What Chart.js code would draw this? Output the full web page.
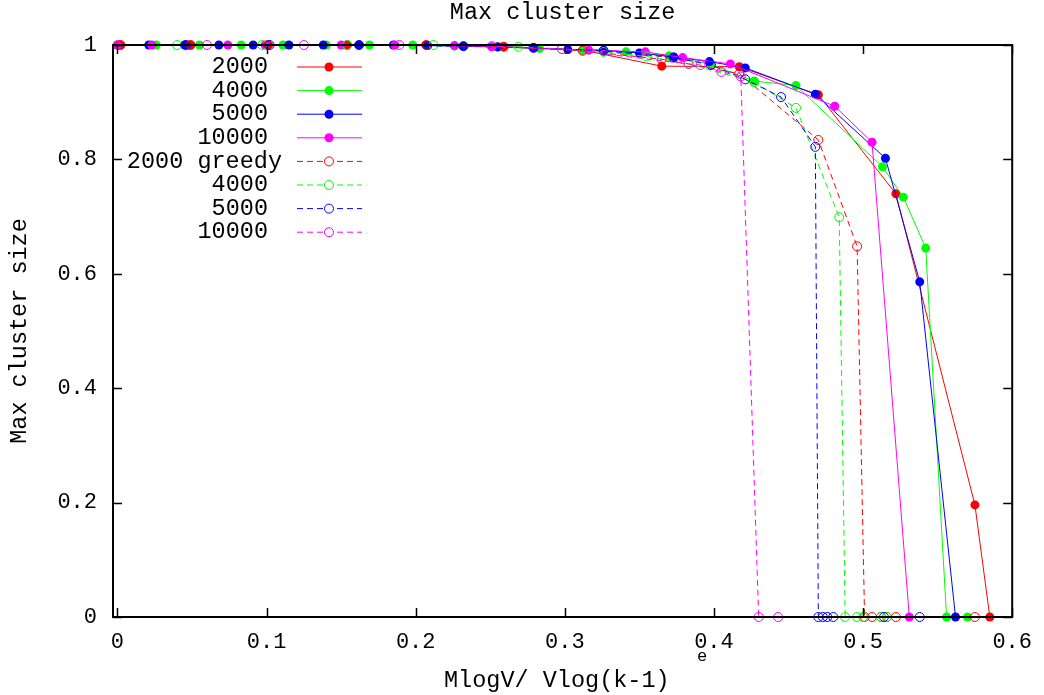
<!DOCTYPE html>
<html lang="en">
  <head>
    <meta charset="UTF-8">
    <script src="https://cdn.jsdelivr.net/npm/chart.js"></script>
    <title>Max cluster size</title>
    <style>
      body { margin: 0; background: #fff; }
      #wrap { width: 1044px; height: 695px; }
    </style>
  </head>
  <body>
    <div id="wrap"><canvas id="myChart"></canvas></div>
    <script>
        // values
        const xTicks = [0, 0.1, 0.2, 0.3, 0.4, 0.5, 0.6];
        const yTicks = [0, 0.2, 0.4, 0.6, 0.8, 1];

        const x2000 = [0.002, 0.049, 0.101, 0.154, 0.207, 0.259, 0.312, 0.365, 0.417, 0.470, 0.522, 0.575, 0.585];
        const y2000 = [1, 1, 1, 1, 1, 0.997, 0.991, 0.963, 0.962, 0.913, 0.740, 0.196, 0];

        const x4000 = [0.026, 0.055, 0.083, 0.111, 0.140, 0.169, 0.198, 0.226, 0.255, 0.283, 0.312, 0.341, 0.370, 0.398, 0.427, 0.455, 0.513, 0.527, 0.542, 0.556, 0.570];
        const y4000 = [1, 1, 1, 1, 1, 1, 1, 0.998, 0.996, 0.994, 0.991, 0.988, 0.981, 0.966, 0.937, 0.929, 0.787, 0.734, 0.645, 0, 0];

        const x5000 = [0, 0.021, 0.045, 0.068, 0.091, 0.115, 0.138, 0.162, 0.185, 0.208, 0.232, 0.255, 0.279, 0.302, 0.326, 0.350, 0.373, 0.397, 0.421, 0.468, 0.515, 0.538, 0.562];
        const y5000 = [1, 1, 1, 1, 1, 1, 1, 1, 1, 0.999, 0.998, 0.997, 0.995, 0.992, 0.991, 0.986, 0.979, 0.971, 0.960, 0.914, 0.802, 0.586, 0];

        const x10000 = [0, 0.023, 0.074, 0.099, 0.150, 0.186, 0.226, 0.251, 0.316, 0.354, 0.379, 0.411, 0.481, 0.506, 0.531];
        const y10000 = [1, 1, 1, 1, 1, 1, 0.999, 0.997, 0.991, 0.988, 0.978, 0.967, 0.893, 0.830, 0];

        const xG2000 = [0.002, 0.049, 0.101, 0.154, 0.207, 0.259, 0.312, 0.365, 0.417, 0.470, 0.496, 0.501, 0.506, 0.512, 0.516, 0.522, 0.575];
        const yG2000 = [1, 1, 1, 1, 1, 0.997, 0.990, 0.975, 0.950, 0.834, 0.648, 0, 0, 0, 0, 0, 0];

        const xG4000 = [0.040, 0.097, 0.154, 0.212, 0.269, 0.298, 0.326, 0.355, 0.383, 0.427, 0.455, 0.484, 0.488, 0.496, 0.500, 0.512, 0.516];
        const yG4000 = [1, 1, 1, 1, 0.997, 0.993, 0.988, 0.980, 0.967, 0.935, 0.890, 0.699, 0, 0, 0, 0, 0];

        const xG5000 = [0.046, 0.102, 0.162, 0.232, 0.279, 0.326, 0.373, 0.398, 0.421, 0.445, 0.468, 0.470, 0.473, 0.476, 0.480, 0.514, 0.538];
        const yG5000 = [1, 1, 1, 0.998, 0.995, 0.990, 0.978, 0.965, 0.940, 0.909, 0.822, 0, 0, 0, 0, 0, 0];

        const xG10000 = [0.060, 0.125, 0.189, 0.251, 0.298, 0.383, 0.391, 0.405, 0.418, 0.430, 0.443];
        const yG10000 = [1, 1, 1, 0.998, 0.993, 0.967, 0.965, 0.953, 0.945, 0, 0];

        const seriesLabels = ['2000', '4000', '5000', '10000', '2000 greedy', '4000', '5000', '10000'];
        const colors = ['#ff0000', '#00ff00', '#0000ff', '#ff00ff'];
        const FONT = '"Liberation Mono", "DejaVu Sans Mono", monospace';

        function pts(xs, ys) {
          return xs.map((x, i) => ({ x: x, y: ys[i] }));
        }

        const seriesData = [
          pts(x2000, y2000), pts(x4000, y4000), pts(x5000, y5000), pts(x10000, y10000),
          pts(xG2000, yG2000), pts(xG4000, yG4000), pts(xG5000, yG5000), pts(xG10000, yG10000)
        ];

        const datasets = seriesData.map((d, i) => {
          const c = colors[i % 4];
          const greedy = i >= 4;
          return {
            label: seriesLabels[i],
            data: d,
            borderColor: c,
            backgroundColor: greedy ? 'rgba(0,0,0,0)' : c,
            pointBorderColor: c,
            pointBackgroundColor: greedy ? '#fff0' : c,
            borderWidth: 1,
            borderDash: greedy ? [6, 4] : [],
            pointRadius: 4.5,
            pointBorderWidth: greedy ? 1 : 0,
            pointHoverRadius: 4.5,
            showLine: true,
            tension: 0,
            clip: false,
            order: 8 - i
          };
        });

        // gnuplot-like frame with inward ticks, legend, title and axis labels
        const gnuplotLook = {
          id: 'gnuplotLook',
          afterDatasetsDraw(chart) {
            const ctx = chart.ctx;
            const a = chart.chartArea;
            const xs = chart.scales.x, ys = chart.scales.y;
            ctx.save();
            ctx.strokeStyle = '#000';
            ctx.lineWidth = 1.5;
            ctx.beginPath();
            xTicks.forEach(v => {
              const p = Math.round(xs.getPixelForValue(v)) + 0.5;
              ctx.moveTo(p, a.bottom); ctx.lineTo(p, a.bottom - 9);
              ctx.moveTo(p, a.top); ctx.lineTo(p, a.top + 9);
            });
            yTicks.forEach(v => {
              const p = Math.round(ys.getPixelForValue(v)) + 0.5;
              ctx.moveTo(a.left, p); ctx.lineTo(a.left + 9, p);
              ctx.moveTo(a.right, p); ctx.lineTo(a.right - 9, p);
            });
            ctx.stroke();
            ctx.lineWidth = 2;
            ctx.strokeRect(a.left, a.top, a.right - a.left, a.bottom - a.top);

            // legend
            ctx.font = '23.5px ' + FONT;
            ctx.textBaseline = 'middle';
            ctx.fillStyle = '#000';
            chart.data.datasets.forEach((ds, i) => {
              const y = 67 + i * 23.6;
              ctx.textAlign = 'right';
              ctx.fillText(ds.label, i === 4 ? 282 : 268, y);
              ctx.strokeStyle = ds.borderColor;
              ctx.lineWidth = 1;
              ctx.setLineDash(ds.borderDash);
              ctx.beginPath();
              ctx.moveTo(297, y); ctx.lineTo(362, y);
              ctx.stroke();
              ctx.setLineDash([]);
              ctx.beginPath();
              ctx.arc(329, y, 4.5, 0, Math.PI * 2);
              if (i < 4) { ctx.fillStyle = ds.borderColor; ctx.fill(); }
              else { ctx.fillStyle = '#fff'; ctx.fill(); ctx.stroke(); }
              ctx.fillStyle = '#000';
            });

            // title and x-axis label
            ctx.textAlign = 'center';
            ctx.fillText('Max cluster size', (a.left + a.right) / 2, 13);
            ctx.textAlign = 'left';
            ctx.fillText('MlogV/ Vlog(k-1)', 444, 681);
            ctx.font = '17px ' + FONT;
            ctx.fillText('e', 697, 656);
            ctx.restore();
          }
        };

        const ctx = document.getElementById('myChart');
        new Chart(ctx, {
          type: 'line',
          data: { datasets: datasets },
          options: {
            responsive: true,
            maintainAspectRatio: false,
            animation: false,
            events: [],
            layout: { padding: { top: 45, right: 29, bottom: 0, left: 0 } },
            plugins: { legend: { display: false }, tooltip: { enabled: false } },
            scales: {
              x: {
                type: 'linear',
                min: -0.003,
                max: 0.6,
                grid: { display: false, drawTicks: false },
                border: { display: false },
                afterBuildTicks: s => { s.ticks = xTicks.map(v => ({ value: v })); },
                afterFit: s => { s.height = 78; },
                ticks: {
                  padding: 12,
                  color: '#000',
                  font: { family: FONT, size: 22 },
                  maxRotation: 0,
                  callback: v => String(v)
                }
              },
              y: {
                type: 'linear',
                min: 0,
                max: 1,
                grid: { display: false, drawTicks: false },
                border: { display: false },
                afterBuildTicks: s => { s.ticks = yTicks.map(v => ({ value: v })); },
                afterFit: s => { s.width = 113; },
                title: {
                  display: true,
                  text: 'Max cluster size',
                  color: '#000',
                  font: { family: FONT, size: 23.5 },
                  padding: { top: 6, bottom: 0 }
                },
                ticks: {
                  padding: 16,
                  color: '#000',
                  font: { family: FONT, size: 22 },
                  callback: v => String(v)
                }
              }
            }
          },
          plugins: [gnuplotLook]
        });
    </script>
  </body>
</html>
